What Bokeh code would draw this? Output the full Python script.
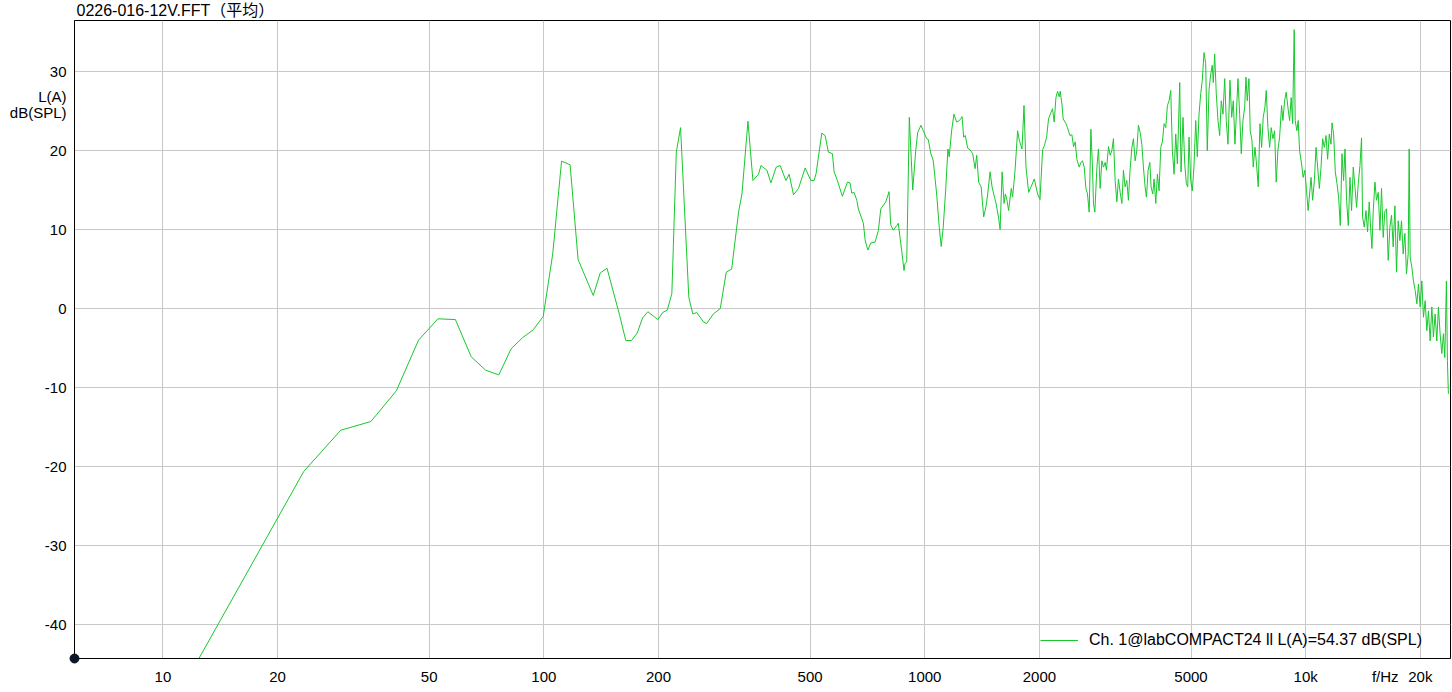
from bokeh.plotting import figure
from bokeh.models import FixedTicker, CustomJSTickFormatter, Legend, LegendItem
from bokeh.embed import file_html
from bokeh.resources import INLINE

# ---------------- texts / ticks ----------------
title_text = "0226-016-12V.FFT（平均）"
y_unit_lines = ["L(A)", "dB(SPL)"]
x_unit_text = "f/Hz"
legend_label = "Ch. 1@labCOMPACT24 ll L(A)=54.37 dB(SPL)"
x_tick_values = [10, 20, 50, 100, 200, 500, 1000, 2000, 5000, 10000, 20000]
x_tick_labels = ["10", "20", "50", "100", "200", "500", "1000", "2000", "5000", "10k", "20k"]
y_tick_values = [-40, -30, -20, -10, 0, 10, 20, 30]
y_tick_labels = ["-40", "-30", "-20", "-10", "0", "10", "20", "30"]
freq_range = (5.859, 24000)
level_range = (-44.3, 36.46)

# ---------------- data (Hz, dB(SPL) A-weighted) ----------------
freq_low = [11.72, 23.44, 29.30, 35.16, 41.02, 46.88, 52.73, 58.59, 64.45, 70.31,
            76.17, 82.03, 87.89, 93.75, 99.61, 105.5, 111.3, 117.2, 123.0, 134.8,
            140.6, 146.5, 158.2, 164.1, 169.9, 175.8, 181.6, 187.5, 199.2, 205.1,
            210.9, 216.8, 222.7, 228.5, 240.2, 246.1, 251.9, 262.5, 267.6, 278.5,
            290.5, 301.2, 311.2, 324.5, 331.2]
level_low = [-46.5, -20.6, -15.4, -14.3, -10.4, -4.0, -1.3, -1.4, -6.1, -7.8,
             -8.4, -5.1, -3.7, -2.7, -1.0, 6.9, 18.65, 18.2, 6.2, 1.65,
             4.5, 5.1, -0.9, -4.05, -4.05, -3.1, -1.2, -0.4, -1.4, -0.5,
             -0.2, 1.9, 19.8, 22.9, 1.4, -0.7, -0.5, -1.7, -1.9, -0.7,
             0.0, 4.6, 5.0, 12.2, 14.5]

freq_mid = [343.4, 353.9, 366.1, 371.5, 385.2, 394.5, 407.4, 417.4, 431.9, 440.6,
            452.2, 466.1, 485.3, 502.2, 512.3, 518.5, 536.6, 547.5, 558.5, 572.2,
            578.1, 589.7, 607.8, 626.4, 636.7, 643.3, 652.3, 663.1, 669.5, 690.0,
            697.1, 708.6, 721.6, 740.5, 755.5, 766.5, 781.7, 789.8, 797.5, 805.8,
            814.0, 826.9, 844.2, 852.2, 861.0, 870.0, 882.2, 887.5, 896.7, 910.9,
            929.8, 946.9, 958.3, 977.3, 991.1, 1011.6, 1021.4, 1036.3, 1052.7, 1074.5,
            1091.4, 1104.8, 1118.1, 1134.4, 1150.2, 1159.3, 1176.3, 1192.7]
level_mid = [23.7, 16.2, 17.0, 18.1, 17.5, 15.9, 17.9, 18.1, 16.2, 17.0,
             14.4, 15.2, 17.8, 16.2, 16.2, 17.1, 22.2, 21.9, 19.8, 19.6,
             17.3, 16.2, 14.2, 16.0, 15.9, 14.6, 14.7, 13.7, 12.6, 10.8,
             8.7, 7.4, 8.3, 8.4, 9.9, 12.6, 13.2, 13.5, 14.1, 14.8,
             10.6, 9.9, 10.5, 10.8, 9.0, 7.3, 4.8, 5.7, 5.9, 24.2,
             15.0, 20.0, 22.3, 23.2, 22.5, 21.5, 21.4, 19.7, 18.7, 14.5,
             10.3, 7.85, 10.3, 14.9, 20.2, 19.2, 22.5, 24.6]

freq_khz1 = [1213, 1233, 1246, 1253, 1265, 1278, 1296, 1315, 1336, 1356,
             1369, 1385, 1406, 1428, 1449, 1463, 1484, 1502, 1517, 1539,
             1561, 1577, 1596, 1615, 1628, 1644, 1660, 1687, 1701, 1726,
             1753, 1771, 1800, 1822, 1844, 1874, 1901, 1939, 1978, 2007,
             2039, 2060, 2089, 2113, 2144, 2165, 2187, 2210, 2232, 2254,
             2268, 2291, 2309, 2348, 2370, 2405, 2434, 2458, 2483, 2508,
             2544, 2570, 2595, 2622, 2649, 2674, 2702, 2730, 2756, 2773,
             2796, 2831, 2858, 2887, 2917, 2946, 2976, 2999, 3036, 3067,
             3099, 3129, 3161, 3194, 3225, 3258, 3292, 3324, 3357, 3392,
             3425, 3460, 3496, 3530, 3567, 3603, 3638, 3676, 3714, 3750,
             3788, 3819, 3858, 3898, 3928, 3968, 4000, 4041, 4081, 4122]
level_khz1 = [23.6, 23.8, 24.1, 24.3, 21.7, 21.9, 20.3, 20.1, 19.6, 17.7,
              19.4, 16.0, 15.4, 11.6, 13.0, 14.5, 17.3, 15.4, 14.5, 13.3,
              11.6, 10.0, 17.3, 13.3, 14.5, 13.7, 12.4, 15.2, 14.1, 17.5,
              22.5, 21.3, 20.2, 25.7, 17.9, 14.7, 15.4, 16.4, 14.5, 13.8,
              20.1, 20.6, 21.7, 24.0, 24.8, 25.3, 23.6, 26.7, 27.5, 26.8,
              27.5, 25.9, 24.0, 23.4, 22.9, 21.9, 22.0, 20.5, 21.1, 18.9,
              17.9, 18.5, 18.7, 17.9, 15.2, 14.5, 12.2, 22.7, 17.9, 13.3,
              12.2, 17.9, 20.2, 15.2, 18.7, 17.9, 18.5, 17.5, 20.5, 19.4,
              20.0, 21.5, 16.2, 13.5, 16.4, 14.7, 13.3, 17.5, 15.4, 16.2,
              13.7, 17.6, 20.3, 21.5, 18.7, 20.0, 23.2, 22.3, 20.8, 17.9,
              15.4, 14.1, 17.5, 18.5, 15.4, 14.5, 16.4, 13.3, 17.0, 14.9]

freq_khz2 = [4165, 4206, 4249, 4293, 4335, 4380, 4424, 4467, 4513, 4559,
             4604, 4671, 4708, 4764, 4814, 4861, 4902, 4941, 4991, 5040,
             5092, 5144, 5194, 5248, 5302, 5353, 5409, 5465, 5517, 5575,
             5633, 5686, 5722, 5769, 5825, 5886, 5946, 6004, 6066, 6130,
             6188, 6252, 6328, 6394, 6456, 6522, 6590, 6641, 6710, 6776,
             6845, 6916, 6970, 7025, 7097, 7152, 7227, 7284, 7360, 7417,
             7507, 7585, 7662, 7737, 7817, 7879, 7959, 8042, 8120, 8203,
             8288, 8369, 8454, 8542, 8645, 8713, 8804, 8889, 8980, 9074,
             9162, 9240, 9330, 9386, 9482, 9558, 9638, 9756, 9849, 9950,
             10053, 10150]
level_khz2 = [20.4, 21.1, 23.4, 22.9, 25.7, 26.3, 27.6, 20.0, 17.0, 22.1,
              18.3, 28.6, 17.3, 24.2, 18.3, 15.8, 15.4, 21.7, 16.2, 14.9,
              18.1, 23.8, 19.2, 24.6, 27.2, 28.9, 32.4, 31.0, 20.0, 27.6,
              29.7, 30.8, 28.6, 32.2, 27.2, 23.8, 21.9, 26.3, 24.6, 29.1,
              23.8, 20.8, 28.9, 24.2, 26.3, 20.8, 25.5, 29.1, 24.6, 19.6,
              23.8, 25.5, 29.3, 26.3, 29.1, 22.5, 21.3, 17.9, 20.4, 18.7,
              15.4, 23.4, 20.4, 24.2, 25.5, 27.6, 22.9, 20.4, 22.9, 21.5,
              22.5, 16.0, 20.0, 21.7, 25.7, 23.8, 26.3, 27.4, 25.5, 23.8,
              26.7, 23.4, 35.3, 23.8, 22.5, 23.8, 20.0, 18.3, 16.6, 17.5,
              14.9, 12.4]

freq_khz3 = [10331, 10432, 10539, 10648, 10751, 10862, 10973, 11079, 11194, 11309,
             11419, 11537, 11655, 11726, 11840, 11962, 12085, 12202, 12328, 12455,
             12576, 12683, 12806, 12938, 13071, 13198, 13334, 13471, 13602, 13742,
             13884, 14019, 14104, 14249, 14396, 14536, 14686, 14802, 14927, 15045,
             15200, 15347, 15505, 15665, 15817, 15980, 16145, 16302, 16470, 16639,
             16801, 16974, 17149, 17316, 17494, 17674, 17846, 18030, 18216, 18393,
             18582, 18695, 18808, 19002, 19186, 19384, 19584, 19774, 19978, 20184,
             20380, 20590, 20802, 21004, 21220, 21439, 21647, 21870, 22096, 22310,
             22540, 22772, 22994, 23189, 23414, 23556, 23698]
level_khz3 = [16.6, 13.7, 16.2, 20.4, 17.9, 15.2, 17.9, 21.5, 20.4, 21.9,
              18.9, 22.1, 20.8, 23.5, 22.1, 17.3, 15.8, 14.1, 10.5, 19.6,
              16.2, 20.2, 13.7, 10.5, 16.6, 12.4, 17.9, 15.4, 12.8, 15.8,
              18.1, 21.6, 11.6, 10.3, 12.4, 9.7, 13.5, 10.3, 7.6, 12.4,
              16.0, 13.7, 14.7, 9.9, 15.2, 9.0, 12.4, 12.6, 6.1, 10.3,
              11.8, 7.8, 13.0, 4.6, 11.1, 8.6, 11.1, 6.9, 9.5, 4.4,
              6.9, 20.2, 6.5, 5.2, 3.5, 2.3, 0.6, 3.1, 0.2, 3.5,
              -1.1, 1.0, -2.8, -0.3, -4.1, 0.2, -3.6, -0.7, -4.1, 0.2,
              -3.2, -5.7, -3.2, -6.2, 3.5, -6.6, -10.8]

freq_hz = freq_low + freq_mid + freq_khz1 + freq_khz2 + freq_khz3
level_db = level_low + level_mid + level_khz1 + level_khz2 + level_khz3

# ---------------- layout constants (anchors of the unit captions) ----------------
y_unit_anchor_db = [26.8, 24.8]      # where "L(A)" / "dB(SPL)" sit along the y axis
x_unit_anchor_hz = 16180             # where "f/Hz" sits along the x axis

# ---------------- styling ----------------
FONT = "Liberation Sans, Arial, Noto Sans CJK SC"
FS = "15px"
LINE_COLOR = "#18c82c"
GRID_COLOR = "#c8c8c8"

p = figure(width=1452, height=692, x_axis_type="log",
           x_range=freq_range, y_range=level_range,
           output_backend="svg", toolbar_location=None,
           min_border_left=74, min_border_right=2,
           min_border_top=20, min_border_bottom=34)
p.background_fill_color = "white"
p.border_fill_color = "white"
p.outline_line_color = "black"
p.outline_line_width = 1

p.title.text = title_text
p.title.align = "left"
p.title.offset = 2
p.title.standoff = 0
p.title.vertical_align = "top"
p.title.text_font = FONT
p.title.text_font_size = "16px"
p.title.text_font_style = "normal"
p.title.text_color = "black"

r = p.line(freq_hz, level_db, line_color=LINE_COLOR, line_width=1)

# axis ticks: numeric ticks plus the unit captions as extra labels
x_axis_vals = x_tick_values + [x_unit_anchor_hz]
x_axis_labs = x_tick_labels + [x_unit_text]
y_axis_vals = y_tick_values + y_unit_anchor_db
y_axis_labs = y_tick_labels + y_unit_lines

JS = ("const i = vals.findIndex(v => Math.abs(v - tick) <= 1e-6 * Math.max(1, Math.abs(v)));"
      " return i >= 0 ? labs[i] : '';")
p.xaxis.ticker = FixedTicker(ticks=x_axis_vals, minor_ticks=[])
p.xaxis.formatter = CustomJSTickFormatter(args=dict(vals=x_axis_vals, labs=x_axis_labs), code=JS)
p.yaxis.ticker = FixedTicker(ticks=y_axis_vals, minor_ticks=[])
p.yaxis.formatter = CustomJSTickFormatter(args=dict(vals=y_axis_vals, labs=y_axis_labs), code=JS)

p.xgrid.ticker = FixedTicker(ticks=x_tick_values, minor_ticks=[])
p.ygrid.ticker = FixedTicker(ticks=y_tick_values, minor_ticks=[])

for ax in (p.xaxis[0], p.yaxis[0]):
    ax.axis_line_color = "black"
    ax.axis_line_width = 1
    ax.major_tick_in = 0
    ax.major_tick_out = 0
    ax.minor_tick_in = 0
    ax.minor_tick_out = 0
    ax.major_label_text_font = FONT
    ax.major_label_text_font_size = FS
    ax.major_label_text_color = "black"
p.xaxis.major_label_standoff = 9
p.yaxis.major_label_standoff = 8

p.grid.grid_line_color = GRID_COLOR
p.grid.grid_line_width = 1

# origin dot at the axes' corner
p.scatter(x=[freq_range[0]], y=[level_range[0]], size=9, marker="circle",
          fill_color="#0b1626", line_color="#0b1626", level="overlay")

legend = Legend(items=[LegendItem(label=legend_label, renderers=[r])],
                location=(966, 8), padding=0, margin=0, spacing=0,
                glyph_width=38, glyph_height=20, label_height=20, label_standoff=11,
                label_text_font=FONT, label_text_font_size="16px", label_text_color="black",
                border_line_alpha=0, background_fill_alpha=0)
p.add_layout(legend)

open("out.html", "w").write(file_html(p, INLINE))
